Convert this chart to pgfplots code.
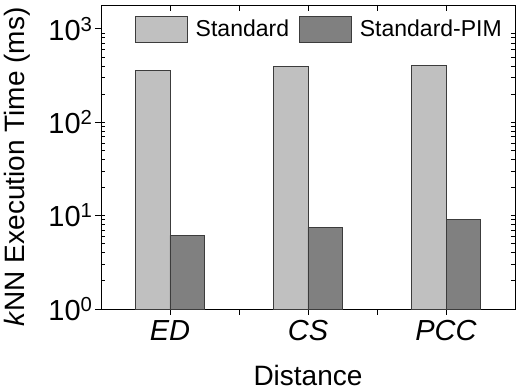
\documentclass[border=0pt]{standalone}
\usepackage{pgfplots}
\pgfplotsset{compat=1.18}
\usepackage{fontspec}
\setmainfont{Liberation Sans}
\definecolor{stdc}{RGB}{192,192,192}
\definecolor{pimc}{RGB}{128,128,128}
\definecolor{edgec}{RGB}{60,60,60}
\begin{document}
\begin{tikzpicture}
\path[use as bounding box] (-101bp,-82bp) rectangle (415bp,309bp);
\begin{axis}[
  at={(0,0)}, anchor=south west,
  scale only axis,
  width=414bp, height=304bp,
  ymode=log,
  ymin=1, ymax=1800,
  xmin=-0.5, xmax=2.5,
  ybar=0pt, bar width=0.25,
  xtick={0,1,2},
  xticklabels={\textit{ED},\textit{CS},\textit{PCC}},
  minor xtick={0.5,1.5},
  xtick pos=bottom,
  ytick={1,10,100,1000},
  yticklabels={10\textsuperscript{0},10\textsuperscript{1},10\textsuperscript{2},10\textsuperscript{3}},
  tick align=outside,
  major tick length=6bp,
  minor tick length=-4bp,
  x tick style={/pgfplots/minor tick length=6bp},
  tick style={black, line width=0.8pt},
  axis line style={black, line width=0.9pt},
  ticklabel style={font=\fontsize{29bp}{31bp}\selectfont},
  xticklabel style={yshift=-2bp},
  yticklabel style={xshift=1bp},
  label style={font=\fontsize{28bp}{30bp}\selectfont},
  xlabel={Distance},
  ylabel={\textit{k}NN Execution Time (ms)},
  xlabel style={at={(axis description cs:0.5,-0.22)}, anchor=center, inner sep=1bp},
  ylabel style={at={(axis description cs:-0.203,0.467)}, anchor=center},
  legend style={draw=none, fill=none, inner sep=0pt, outer sep=0pt,
    font=\fontsize{23bp}{25bp}\selectfont,
    at={(axis description cs:0.082,0.964)}, anchor=north west, legend columns=2,
    /tikz/every even column/.append style={column sep=8bp},
    /tikz/every odd column/.append style={column sep=6bp}},
  legend image code/.code={\draw[#1] (0bp,-13bp) rectangle (52bp,13bp);},
]
\addplot[fill=stdc, draw=edgec, line width=0.8pt] coordinates {(0,356) (1,395) (2,409)};
\addplot[fill=pimc, draw=edgec, line width=0.8pt] coordinates {(0,6.14) (1,7.48) (2,9.12)};
\legend{Standard, Standard-PIM}
\end{axis}
\begin{axis}[
  at={(0,0)}, anchor=south west,
  scale only axis,
  width=414bp, height=304bp,
  xmin=-0.5, xmax=2.5, ymin=0, ymax=1,
  axis x line*=top, hide y axis,
  xtick={0,0.5,1,1.5,2}, xticklabels={},
  tick align=inside, major tick length=6bp,
  tick style={black, line width=0.8pt},
  axis line style={black, line width=0.9pt},
]
\end{axis}
\end{tikzpicture}
\end{document}
